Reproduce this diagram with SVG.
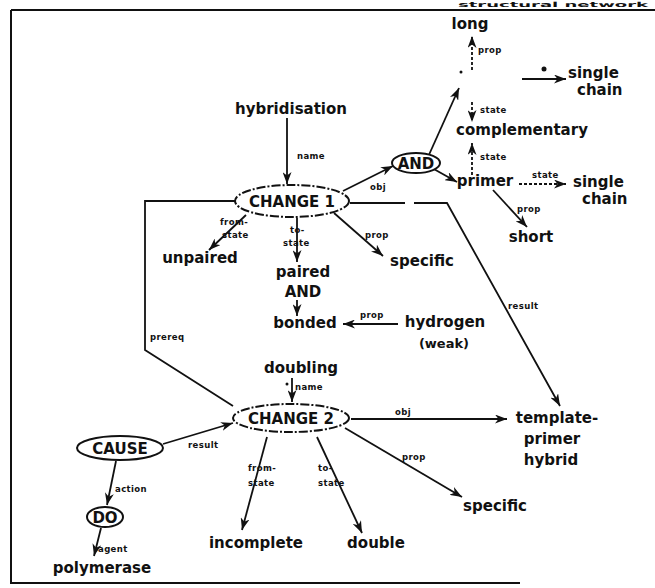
<svg xmlns="http://www.w3.org/2000/svg" width="655" height="588" viewBox="0 0 655 588">
<style>
.t{font-family:"DejaVu Sans","Liberation Sans",sans-serif;font-weight:bold;font-size:15px;fill:#111}
.m{text-anchor:middle}
.s{font-family:"DejaVu Sans","Liberation Sans",sans-serif;font-weight:bold;font-size:8.5px;fill:#111;letter-spacing:0.4px}
.l{fill:none;stroke:#111;stroke-width:1.8}
.d{stroke-dasharray:3,2}
.e{fill:#fff;stroke:#111;stroke-width:2}
.dd{stroke-dasharray:9,2,2,2}
</style>
<defs>
<marker id="ah" markerUnits="userSpaceOnUse" markerWidth="13" markerHeight="9" refX="12" refY="4.5" orient="auto">
<path d="M0,0 L12,4.5 L0,9 L3.5,4.5 Z" fill="#111"/>
</marker>
</defs>
<rect width="655" height="588" fill="#fff"/>
<g id="frame">
<text x="458" y="7" class="t" style="font-size:7px" textLength="190" lengthAdjust="spacingAndGlyphs">structural network</text>
<path d="M11,10 L655,10 M11,10 L11,583 L520,583" fill="none" stroke="#111" stroke-width="2"/>
</g>
<g id="connectors">
<path class="l" d="M287,118 L287,184" marker-end="url(#ah)"/>
<path class="l" d="M343,191 L393,166" marker-end="url(#ah)"/>
<path class="l" d="M428,157 L459,88" marker-end="url(#ah)"/>
<path class="l" d="M432,168 L457,182" marker-end="url(#ah)"/>
<path class="l d" d="M472,70 L472,36" marker-end="url(#ah)"/>
<path class="l d" d="M472,102 L472,122" marker-end="url(#ah)"/>
<path class="l d" d="M472,175 L472,143" marker-end="url(#ah)"/>
<path class="l d" d="M519,184 L566,184" marker-end="url(#ah)"/>
<path class="l" d="M522,79 L566,79" marker-end="url(#ah)"/>
<path class="l" d="M493,190 L527,227" marker-end="url(#ah)"/>
<path class="l" d="M334,213 L383,256" marker-end="url(#ah)"/>
<path class="l" d="M246,215 L209,250" marker-end="url(#ah)"/>
<path class="l" d="M297,218 L297,262" marker-end="url(#ah)"/>
<path class="l" d="M297,300 L297,316" marker-end="url(#ah)"/>
<path class="l" d="M398,324 L343,324" marker-end="url(#ah)"/>
<path class="l" d="M350,203 L405,203"/>
<path class="l" d="M414,203 L447,203 L560,406" marker-end="url(#ah)"/>
<path class="l" d="M235,201 L145,201 L145,350 L233,406"/>
<path class="l" d="M292,378 L292,402" marker-end="url(#ah)"/>
<path class="l" d="M351,419 L507,419" marker-end="url(#ah)"/>
<path class="l" d="M345,428 L462,497" marker-end="url(#ah)"/>
<path class="l" d="M267,437 L242,530" marker-end="url(#ah)"/>
<path class="l" d="M317,437 L362,533" marker-end="url(#ah)"/>
<path class="l" d="M163,444 L233,423" marker-end="url(#ah)"/>
<path class="l" d="M116,461 L107,505" marker-end="url(#ah)"/>
<path class="l" d="M101,528 L94,556" marker-end="url(#ah)"/>
<circle cx="544" cy="69" r="2.5" fill="#111"/>
<circle cx="287" cy="384" r="1.5" fill="#111"/>
<text x="297" y="159" class="s">name</text>
<text x="370" y="190" class="s">obj</text>
<text x="478" y="53" class="s">prop</text>
<text x="480" y="113" class="s">state</text>
<text x="480" y="160" class="s">state</text>
<text x="532" y="178" class="s">state</text>
<text x="517" y="212" class="s">prop</text>
<text x="365" y="238" class="s">prop</text>
<text x="220" y="225" class="s">from-</text>
<text x="222" y="238" class="s">state</text>
<text x="290" y="233" class="s">to-</text>
<text x="283" y="246" class="s">state</text>
<text x="360" y="318" class="s">prop</text>
<text x="508" y="309" class="s">result</text>
<text x="150" y="340" class="s">prereq</text>
<text x="295" y="390" class="s">name</text>
<text x="395" y="415" class="s">obj</text>
<text x="402" y="460" class="s">prop</text>
<text x="248" y="471" class="s">from-</text>
<text x="248" y="486" class="s">state</text>
<text x="318" y="471" class="s">to-</text>
<text x="318" y="486" class="s">state</text>
<text x="188" y="448" class="s">result</text>
<text x="115" y="492" class="s">action</text>
<text x="98" y="552" class="s">agent</text>
</g>
<g id="long"><text x="470" y="29" class="t m">long</text></g>
<g id="blank"><circle cx="461" cy="72" r="1.5" fill="#111"/></g>
<g id="single-chain-1"><text x="568" y="78" class="t">single</text><text x="577" y="95" class="t">chain</text></g>
<g id="complementary"><text x="522" y="135" class="t m">complementary</text></g>
<g id="primer"><text x="485" y="186" class="t m">primer</text></g>
<g id="single-chain-2"><text x="573" y="187" class="t">single</text><text x="582" y="204" class="t">chain</text></g>
<g id="short"><text x="531" y="242" class="t m">short</text></g>
<g id="and"><ellipse cx="416" cy="163" rx="24" ry="10" class="e"/><text x="416" y="168.5" class="t m">AND</text></g>
<g id="hybridisation"><text x="291" y="114" class="t m">hybridisation</text></g>
<g id="change1"><ellipse cx="292" cy="201" rx="57" ry="16" class="e dd"/><text x="292" y="206.5" class="t m">CHANGE 1</text></g>
<g id="unpaired"><text x="200" y="263" class="t m">unpaired</text></g>
<g id="paired-and-bonded"><text x="303" y="277" class="t m">paired</text><text x="303" y="297" class="t m">AND</text><text x="305" y="328" class="t m">bonded</text></g>
<g id="specific1"><text x="422" y="266" class="t m">specific</text></g>
<g id="hydrogen"><text x="445" y="327" class="t m">hydrogen</text><text x="444" y="348" class="t m" style="font-size:13px">(weak)</text></g>
<g id="doubling"><text x="301" y="373" class="t m">doubling</text></g>
<g id="change2"><ellipse cx="291" cy="418" rx="58" ry="14" class="e dd"/><text x="291" y="423.5" class="t m">CHANGE 2</text></g>
<g id="template-primer-hybrid"><text x="557" y="423" class="t m">template-</text><text x="552" y="444" class="t m">primer</text><text x="551" y="465" class="t m">hybrid</text></g>
<g id="specific2"><text x="495" y="511" class="t m">specific</text></g>
<g id="incomplete"><text x="256" y="548" class="t m">incomplete</text></g>
<g id="double"><text x="376" y="548" class="t m">double</text></g>
<g id="cause"><ellipse cx="120" cy="448" rx="43" ry="12" class="e"/><text x="120" y="453.5" class="t m">CAUSE</text></g>
<g id="do"><ellipse cx="105" cy="517" rx="18" ry="10" class="e"/><text x="105" y="522.5" class="t m">DO</text></g>
<g id="polymerase"><text x="102" y="573" class="t m">polymerase</text></g>
</svg>
